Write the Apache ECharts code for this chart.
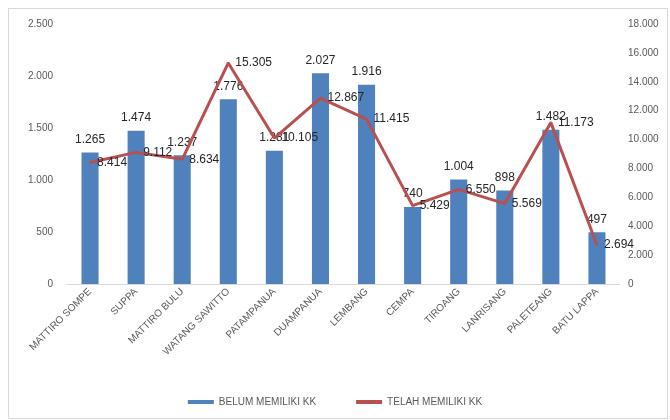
<!DOCTYPE html>
<html><head><meta charset="utf-8">
<script src="https://cdn.jsdelivr.net/npm/echarts@6/dist/echarts.min.js"></script>
<style>html,body{margin:0;padding:0;background:#fff}#c{width:670px;height:420px}
#frame{position:absolute;left:8px;top:8px;width:660px;height:411px;border:1px solid #d9d9d9;box-sizing:border-box;pointer-events:none}</style>
</head><body><div id="c"></div><div id="frame"></div>
<script>
const categories = ['MATTIRO SOMPE','SUPPA','MATTIRO BULU','WATANG SAWITTO','PATAMPANUA','DUAMPANUA','LEMBANG','CEMPA','TIROANG','LANRISANG','PALETEANG','BATU LAPPA'];
const belum = [1265,1474,1237,1776,1281,2027,1916,740,1004,898,1482,497];
const telah = [8414,9112,8634,15305,10105,12867,11415,5429,6550,5569,11173,2694];
const fmt = v => String(v).replace(/\B(?=(\d{3})+(?!\d))/g, '.');
const chart = echarts.init(document.getElementById('c'));
chart.setOption({
  animation:false,
  textStyle:{fontFamily:'Liberation Sans'},
  grid:{left:67,right:50,top:24,bottom:136},
  legend:{bottom:8,left:'center',itemGap:40,itemWidth:26,itemHeight:4,
    textStyle:{color:'#595959',fontSize:10},
    data:[{name:'BELUM MEMILIKI KK',icon:'rect'},{name:'TELAH MEMILIKI KK',icon:'rect'}]},
  xAxis:{type:'category',data:categories,
    axisLine:{lineStyle:{color:'#d9d9d9'}},axisTick:{show:false},
    axisLabel:{rotate:45,color:'#595959',fontSize:10,interval:0,margin:6}},
  yAxis:[
    {type:'value',min:0,max:2500,interval:500,splitLine:{show:false},axisLine:{show:false},axisTick:{show:false},
      axisLabel:{color:'#595959',fontSize:10,formatter:fmt,margin:14}},
    {type:'value',min:0,max:18000,interval:2000,splitLine:{show:false},axisLine:{show:false},axisTick:{show:false},
      axisLabel:{color:'#595959',fontSize:10,formatter:fmt,margin:8}}
  ],
  series:[
    {name:'BELUM MEMILIKI KK',type:'bar',data:belum,barWidth:'37%',itemStyle:{color:'#4F81BD'},
      labelLayout:{hideOverlap:false},
      label:{show:true,position:'top',color:'#262626',fontSize:12,distance:7,formatter:p=>fmt(p.value)}},
    {name:'TELAH MEMILIKI KK',type:'line',yAxisIndex:1,data:telah,symbol:'circle',symbolSize:2,showSymbol:true,
      lineStyle:{color:'#B9504F',width:3},itemStyle:{color:'#B9504F'},
      labelLayout:{hideOverlap:false},z:3,
      label:{show:true,position:'right',color:'#262626',fontSize:12,distance:6,formatter:p=>fmt(p.value)}}
  ]
});
</script></body></html>
